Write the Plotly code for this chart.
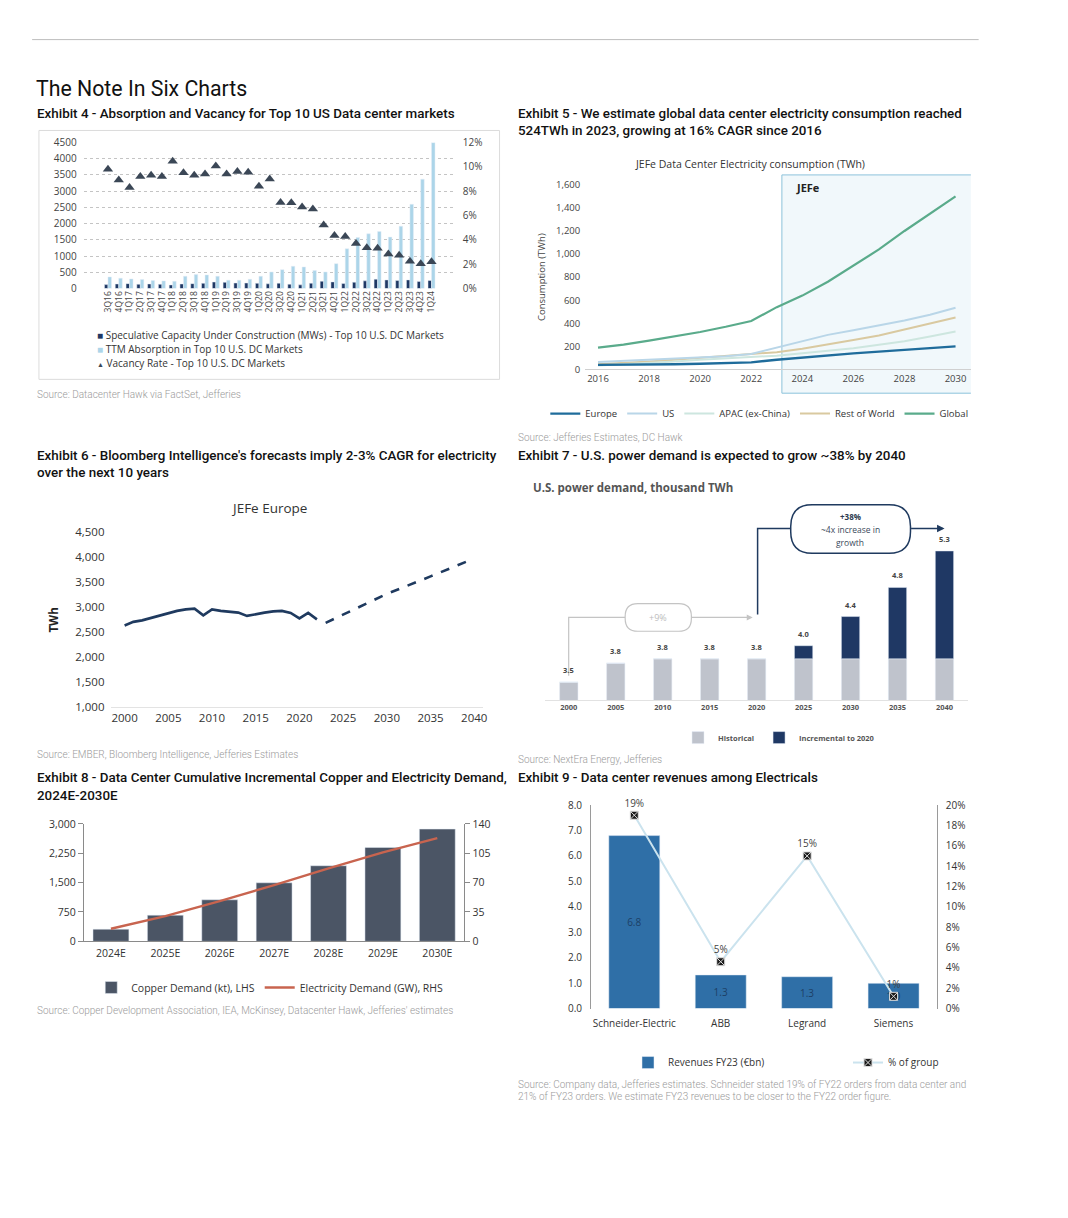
import plotly.graph_objects as go

W, H = 1068, 1218


def px(x):
    return x / W


def py(y):
    return 1 - y / H


# ---------------- DATA ----------------
# Exhibit 4
ex4_quarters = ["3Q16", "4Q16", "1Q17", "2Q17", "3Q17", "4Q17", "1Q18", "2Q18", "3Q18", "4Q18",
                "1Q19", "2Q19", "3Q19", "4Q19", "1Q20", "2Q20", "3Q20", "4Q20", "1Q21", "2Q21",
                "3Q21", "4Q21", "1Q22", "2Q22", "3Q22", "4Q22", "1Q23", "2Q23", "3Q23", "4Q23", "1Q24"]
ex4_speculative_mw = [120, 140, 150, 130, 140, 130, 110, 140, 150, 160, 200, 190, 170, 170, 160, 143,
                      163, 133, 112, 163, 224, 204, 153, 194, 235, 286, 265, 245, 265, 214, 245]
ex4_absorption_mw = [356, 316, 295, 275, 244, 234, 224, 377, 428, 418, 377, 255, 255, 285, 377, 510,
                     580, 684, 663, 551, 510, 765, 1224, 1571, 1684, 1755, 1582, 1918, 2592, 3367, 4490]
ex4_vacancy = [0.098, 0.089, 0.083, 0.092, 0.093, 0.092, 0.1045, 0.095, 0.093, 0.094, 0.1005, 0.094,
               0.096, 0.0955, 0.084, 0.0898, 0.0707, 0.0705, 0.067, 0.0653, 0.0522, 0.0435, 0.0427,
               0.037, 0.0335, 0.033, 0.0283, 0.0272, 0.0223, 0.0204, 0.022]
ex4_legend = ["Speculative Capacity Under Construction (MWs) - Top 10 U.S. DC Markets",
              "TTM Absorption in Top 10 U.S. DC Markets",
              "Vacancy Rate - Top 10 U.S. DC Markets"]

# Exhibit 5
ex5_years = [2016, 2017, 2018, 2019, 2020, 2021, 2022, 2023, 2024, 2025, 2026, 2027, 2028, 2029, 2030]
ex5_europe = [40, 40, 42, 45, 50, 57, 62, 85, 105, 125, 140, 155, 170, 185, 200]
ex5_us = [65, 75, 85, 95, 105, 115, 135, 190, 250, 300, 340, 380, 425, 475, 535]
ex5_apac = [35, 45, 55, 70, 85, 95, 110, 120, 140, 160, 185, 215, 245, 285, 330]
ex5_row = [45, 55, 70, 85, 100, 115, 135, 150, 180, 215, 255, 295, 345, 395, 450]
ex5_global = [190, 215, 250, 285, 325, 370, 420, 540, 640, 760, 900, 1040, 1200, 1350, 1500]
ex5_jefe_start = 2023.2

# Exhibit 6
ex6_hist_years = list(range(2000, 2023))
ex6_hist_twh = [2638, 2710, 2740, 2790, 2840, 2890, 2930, 2960, 2975, 2840, 2960, 2930, 2920, 2895,
                2830, 2870, 2895, 2920, 2930, 2890, 2780, 2890, 2760]
ex6_fc_years = [2023, 2025, 2030, 2035, 2040]
ex6_fc_twh = [2690, 2860, 3270, 3620, 3980]

# Exhibit 7
ex7_years = ["2000", "2005", "2010", "2015", "2020", "2025", "2030", "2035", "2040"]
ex7_historical = [3.5, 3.76, 3.82, 3.82, 3.82, 3.82, 3.82, 3.82, 3.82]
ex7_incremental = [0, 0, 0, 0, 0, 0.18, 0.58, 0.98, 1.48]

# Exhibit 8
ex8_years = ["2024E", "2025E", "2026E", "2027E", "2028E", "2029E", "2030E"]
ex8_copper_kt = [310, 669, 1061, 1495, 1930, 2398, 2866]
ex8_elec_gw = [15, 30, 48, 67, 87, 106, 123]

# Exhibit 9
ex9_companies = ["Schneider-Electric", "ABB", "Legrand", "Siemens"]
ex9_revenue_bn = [6.8, 1.32, 1.25, 0.99]
ex9_pct_group = [0.19, 0.046, 0.15, 0.012]

# ---------------- STYLE ----------------
TF = "Roboto"
CF = "Open Sans"
DARK = "#222222"
GREY_SRC = "#9a9a9a"
C4 = ["#1f3864", "#acd5e9", "#3b4756"]

fig = go.Figure()

# ---- Exhibit 4 ----
fig.add_trace(go.Bar(x=ex4_quarters, y=ex4_speculative_mw, name=ex4_legend[0], showlegend=False,
                     marker_color=C4[0], xaxis="x", yaxis="y", offsetgroup="s"))
fig.add_trace(go.Bar(x=ex4_quarters, y=ex4_absorption_mw, name=ex4_legend[1], showlegend=False,
                     marker_color=C4[1], xaxis="x", yaxis="y", offsetgroup="t"))
fig.add_trace(go.Scatter(x=ex4_quarters, y=ex4_vacancy, mode="markers", name=ex4_legend[2],
                         marker=dict(symbol="triangle-up", size=9, color=C4[2]), showlegend=False,
                         xaxis="x", yaxis="y2"))

# ---- Exhibit 5 ----
ex5_series = [
    ("Global", ex5_global, "#5aab8b", 2.2, 5),
    ("Rest of World", ex5_row, "#d9c9a0", 2.0, 4),
    ("APAC (ex-China)", ex5_apac, "#cde6df", 2.0, 3),
    ("US", ex5_us, "#b9d6e8", 2.0, 2),
    ("Europe", ex5_europe, "#1f6c9b", 2.4, 1),
]
for name, vals, col, wdt, rank in ex5_series:
    fig.add_trace(go.Scatter(x=ex5_years, y=vals, mode="lines", name=name,
                             line=dict(color=col, width=wdt), legendrank=rank,
                             xaxis="x2", yaxis="y3", legend="legend2"))

# ---- Exhibit 6 ----
fig.add_trace(go.Scatter(x=ex6_hist_years, y=ex6_hist_twh, mode="lines",
                         line=dict(color="#1f3a5f", width=2.6), showlegend=False,
                         xaxis="x3", yaxis="y4"))
fig.add_trace(go.Scatter(x=ex6_fc_years, y=ex6_fc_twh, mode="lines",
                         line=dict(color="#1f3a5f", width=2.6, dash="dash"), showlegend=False,
                         xaxis="x3", yaxis="y4"))

# ---- Exhibit 7 ----
fig.add_trace(go.Bar(x=ex7_years, y=ex7_historical, name="Historical", marker_color="#bfc3cc",
                     width=0.39, offsetgroup="h", xaxis="x4", yaxis="y5", legend="legend3"))
fig.add_trace(go.Bar(x=ex7_years, y=ex7_incremental, base=ex7_historical,
                     name="Incremental to 2020", marker_color="#1f3864",
                     width=0.39, offsetgroup="h", xaxis="x4", yaxis="y5", legend="legend3"))
ex7_totals = [h + i for h, i in zip(ex7_historical, ex7_incremental)]
for idx, tot in enumerate(ex7_totals):
    fig.add_annotation(x=idx, y=tot, xref="x4", yref="y5", text=f"<b>{tot:.1f}</b>",
                       showarrow=False, yshift=12,
                       font=dict(family=CF, size=7.5, color="#444"))

# ---- Exhibit 8 ----
fig.add_trace(go.Bar(x=ex8_years, y=ex8_copper_kt, name="Copper Demand (kt), LHS",
                     marker_color="#4b5565", width=0.66, xaxis="x5", yaxis="y6", legend="legend4"))
fig.add_trace(go.Scatter(x=ex8_years, y=ex8_elec_gw, mode="lines", name="Electricity Demand (GW), RHS",
                         line=dict(color="#c8644f", width=2.4), xaxis="x5", yaxis="y7", legend="legend4"))

# ---- Exhibit 9 ----
fig.add_trace(go.Bar(x=ex9_companies, y=ex9_revenue_bn, name="Revenues FY23 (€bn)",
                     marker_color="#2f6fa7", width=0.59, texttemplate="%{y:.1f}",
                     textposition="inside", insidetextanchor="middle",
                     textfont=dict(family=CF, size=10, color="#1d3f66"),
                     xaxis="x6", yaxis="y8", legend="legend5"))
fig.add_trace(go.Scatter(x=ex9_companies, y=ex9_pct_group, mode="lines+markers+text",
                         name="% of group", texttemplate="%{y:.0%}", textposition="top center",
                         textfont=dict(family=CF, size=10, color="#444"), cliponaxis=False,
                         line=dict(color="#cbe3ee", width=2),
                         marker=dict(symbol="square-x", size=8, color="#1a1a1a",
                                     line=dict(color="#dddddd", width=1)),
                         xaxis="x6", yaxis="y9", legend="legend5"))

# ---------------- AXES ----------------
tickf = dict(family=CF, size=10, color="#444")
noline = dict(showline=False, zeroline=False, showgrid=False, ticks="")

layout = dict(
    width=W, height=H, margin=dict(l=0, r=0, t=0, b=0),
    paper_bgcolor="white", plot_bgcolor="rgba(0,0,0,0)",
    barmode="group", bargap=0.35, bargroupgap=0.0,
    font=dict(family=CF, color="#333"),
    # Ex4
    xaxis=dict(domain=[px(86), px(468)], anchor="y", type="category", tickangle=-90,
               tickmode="array", tickvals=ex4_quarters, ticktext=ex4_quarters,
               tickfont=dict(family=CF, size=8.5, color="#444"), **noline),
    yaxis=dict(domain=[py(284), py(136)], anchor="x", range=[0, 4500], dtick=500,
               showgrid=True, gridcolor="#c4c4c4", griddash="dot", gridwidth=1,
               zeroline=False, showline=False, ticks="", tickfont=tickf, ticklabelstandoff=6),
    yaxis2=dict(overlaying="y", anchor="x", side="right", range=[0, 0.12], dtick=0.02,
                tickformat=".0%", tickfont=tickf, ticklabelstandoff=6, **noline),
    # Ex5
    xaxis2=dict(domain=[px(601), px(997)], anchor="y3", range=[2015.5, 2030.6], tick0=2016, dtick=2,
                showline=True, linecolor="#d0d0d0", zeroline=False, showgrid=False, ticks="",
                tickfont=dict(family=CF, size=9.5, color="#444")),
    yaxis3=dict(domain=[py(366), py(179)], anchor="x2", range=[0, 1600], dtick=200, tickformat=",",
                tickfont=dict(family=CF, size=9.5, color="#444"), ticklabelstandoff=4,
                title=dict(text="Consumption (TWh)", font=dict(family=CF, size=9.5, color="#444"),
                           standoff=8), **noline),
    # Ex6
    xaxis3=dict(domain=[px(114.5), px(496)], anchor="y4", range=[1998.5, 2041], tick0=2000, dtick=5,
                showline=True, linecolor="#e3e3e3", zeroline=False, showgrid=False, ticks="",
                tickfont=dict(family=CF, size=11.5, color="#333")),
    yaxis4=dict(domain=[py(708), py(531)], anchor="x3", range=[1000, 4500], dtick=500, tickformat=",",
                tickfont=dict(family=CF, size=11.5, color="#333"), ticklabelstandoff=6,
                title=dict(text="<b>TWh</b>", font=dict(family=CF, size=11.5, color="#222"),
                           standoff=14), **noline),
    # Ex7
    xaxis4=dict(domain=[px(560), px(994)], anchor="y5", type="category", range=[-0.5, 8.5],
                showline=True, linecolor="#e2e2e2", zeroline=False, showgrid=False, ticks="",
                tickfont=dict(family=CF, size=7.5, color="#555", weight="bold")),
    yaxis5=dict(domain=[py(701), py(527.6)], anchor="x4", range=[3.25, 5.6],
                showticklabels=False, **noline),
    # Ex8
    xaxis5=dict(domain=[px(86), px(477)], anchor="y6", type="category",
                showline=True, linecolor="#8a8a8a", zeroline=False, showgrid=False, ticks="",
                tickfont=dict(family=CF, size=10.5, color="#333"), ticklabelstandoff=2),
    yaxis6=dict(domain=[py(945), py(826)], anchor="x5", range=[0, 3000], tickvals=[0, 750, 1500, 2250, 3000],
                tickformat=",", showline=True, linecolor="#8a8a8a", ticks="outside", ticklen=5,
                tickcolor="#8a8a8a", zeroline=False, showgrid=False,
                tickfont=dict(family=CF, size=10.5, color="#333")),
    yaxis7=dict(overlaying="y6", anchor="x5", side="right", range=[0, 140], tickvals=[0, 35, 70, 105, 140],
                showline=True, linecolor="#8a8a8a", ticks="outside", ticklen=5, tickcolor="#8a8a8a",
                zeroline=False, showgrid=False, tickfont=dict(family=CF, size=10.5, color="#333")),
    # Ex9
    xaxis6=dict(domain=[px(607), px(962)], anchor="y8", type="category",
                showline=False, zeroline=False, showgrid=False, ticks="",
                tickfont=dict(family=CF, size=10, color="#333"), ticklabelstandoff=7),
    yaxis8=dict(domain=[py(1013), py(807)], anchor="x6", range=[0, 8], dtick=1, tickformat=".1f",
                showline=True, linecolor="#9a9a9a", ticks="", zeroline=False, showgrid=False,
                tickfont=dict(family=CF, size=10, color="#333"), ticklabelstandoff=6),
    yaxis9=dict(overlaying="y8", anchor="x6", side="right", range=[0, 0.2], dtick=0.02, tickformat=".0%",
                showline=True, linecolor="#9a9a9a", ticks="", zeroline=False, showgrid=False,
                tickfont=dict(family=CF, size=10, color="#333"), ticklabelstandoff=6),
    # Legends
    legend2=dict(x=px(560), y=py(396), xanchor="left", yanchor="top", orientation="h",
                 font=dict(family=CF, size=9.5, color="#333"), bgcolor="rgba(0,0,0,0)"),
    legend3=dict(x=px(800), y=py(724), xanchor="center", yanchor="top", orientation="h",
                 font=dict(family=CF, size=7.5, color="#555", weight="bold"), bgcolor="rgba(0,0,0,0)"),
    legend4=dict(x=px(277), y=py(977), xanchor="center", yanchor="top", orientation="h",
                 font=dict(family=CF, size=10.5, color="#333"), bgcolor="rgba(0,0,0,0)"),
    legend5=dict(x=px(645), y=py(1053), xanchor="left", yanchor="top", orientation="h",
                 entrywidth=175, entrywidthmode="pixels",
                 font=dict(family=CF, size=10, color="#333"), bgcolor="rgba(0,0,0,0)"),
)
fig.update_layout(**layout)

# ---------------- SHAPES ----------------
shapes = []
shapes.append(dict(type="line", xref="paper", yref="paper", x0=px(33), x1=px(1005), y0=py(32), y1=py(32),
                   line=dict(color="#bdbdbd", width=1)))
shapes.append(dict(type="rect", xref="paper", yref="paper", x0=px(40), x1=px(513), y0=py(376), y1=py(124),
                   line=dict(color="#dcdcdc", width=1), fillcolor="rgba(0,0,0,0)", layer="below"))
shapes.append(dict(type="rect", xref="x2", yref="paper", x0=ex5_jefe_start, x1=2030.7,
                   y0=py(390), y1=py(169), line=dict(color="#8cc3db", width=1),
                   fillcolor="rgba(215,234,244,0.35)", layer="below"))


def rounded(x0, y0, x1, y1, r):
    pts = [
        ("M", [(x0 + r, y0)]), ("L", [(x1 - r, y0)]), ("Q", [(x1, y0), (x1, y0 + r)]),
        ("L", [(x1, y1 - r)]), ("Q", [(x1, y1), (x1 - r, y1)]), ("L", [(x0 + r, y1)]),
        ("Q", [(x0, y1), (x0, y1 - r)]), ("L", [(x0, y0 + r)]), ("Q", [(x0, y0), (x0 + r, y0)]),
    ]
    s = ""
    for cmd, ps in pts:
        s += cmd + " " + " ".join(f"{px(a):.5f},{py(b):.5f}" for a, b in ps) + " "
    return s + "Z"


shapes.append(dict(type="path", xref="paper", yref="paper",
                   path=f"M {px(584)},{py(676)} L {px(584)},{py(617)} L {px(642)},{py(617)}",
                   line=dict(color="#c4c4c4", width=1.2)))
shapes.append(dict(type="path", xref="paper", yref="paper", path=rounded(642, 603, 710, 631, 13),
                   line=dict(color="#c4c4c4", width=1.2), fillcolor="white"))
shapes.append(dict(type="path", xref="paper", yref="paper",
                   path=f"M {px(778)},{py(614)} L {px(778)},{py(527)} L {px(812)},{py(527)}",
                   line=dict(color="#1f3a5f", width=1.5)))
shapes.append(dict(type="path", xref="paper", yref="paper", path=rounded(812, 503, 935, 552, 22),
                   line=dict(color="#1f3a5f", width=1.5), fillcolor="white"))
fig.update_layout(shapes=shapes)

fig.add_annotation(x=px(773), y=py(617), xref="paper", yref="paper", ax=-63, ay=0, text="",
                   showarrow=True, arrowhead=2, arrowsize=1, arrowwidth=1.2, arrowcolor="#c4c4c4", standoff=0)
fig.add_annotation(x=px(970), y=py(527), xref="paper", yref="paper", ax=-35, ay=0, text="",
                   showarrow=True, arrowhead=2, arrowsize=1, arrowwidth=1.5, arrowcolor="#1f3a5f", standoff=0)


# ---------------- TEXT ----------------
def txt(x, y, t, size, color=DARK, family=TF, weight="normal", anchor="left"):
    fig.add_annotation(x=px(x), y=py(y), xref="paper", yref="paper", text=t, showarrow=False,
                       xanchor=anchor, yanchor="middle",
                       font=dict(family=family, size=size, color=color, weight=weight))


ex4_syms = [f'<span style="color:{C4[0]}">■</span>', f'<span style="color:{C4[1]}">■</span>',
            f'<span style="color:{C4[2]};font-size:7px">▲</span>']
for i, (sym, lab) in enumerate(zip(ex4_syms, ex4_legend)):
    txt(98, 331 + 14 * i, f"{sym} {lab}", 10, "#333", family=CF)

txt(35, 81, "The Note In Six Charts", 21.3, "#111")
TW = 500
TS = 13.4
txt(36, 107, "Exhibit 4 - Absorption and Vacancy for Top 10 US Data center markets", TS, "#111", weight=TW)
txt(530, 107, "Exhibit 5 - We estimate global data center electricity consumption reached", TS, "#111", weight=TW)
txt(530, 124, "524TWh in 2023, growing at 16% CAGR since 2016", TS, "#111", weight=TW)
txt(36, 453, "Exhibit 6 - Bloomberg Intelligence's forecasts imply 2-3% CAGR for electricity", TS, "#111", weight=TW)
txt(36, 470, "over the next 10 years", TS, "#111", weight=TW)
txt(530, 453, "Exhibit 7 - U.S. power demand is expected to grow ~38% by 2040", TS, "#111", weight=TW)
txt(36, 779, "Exhibit 8 - Data Center Cumulative Incremental Copper and Electricity Demand,", TS, "#111", weight=TW)
txt(36, 797, "2024E-2030E", TS, "#111", weight=TW)
txt(530, 779, "Exhibit 9 - Data center revenues among Electricals", TS, "#111", weight=TW)

SW = 300
txt(36, 391, "Source: Datacenter Hawk via FactSet, Jefferies", 10, GREY_SRC, weight=SW)
txt(530, 435, "Source: Jefferies Estimates, DC Hawk", 10, GREY_SRC, weight=SW)
txt(36, 756, "Source: EMBER, Bloomberg Intelligence, Jefferies Estimates", 10, GREY_SRC, weight=SW)
txt(530, 761, "Source: NextEra Energy, Jefferies", 10, GREY_SRC, weight=SW)
txt(36, 1015, "Source: Copper Development Association, IEA, McKinsey, Datacenter Hawk, Jefferies' estimates",
    10, GREY_SRC, weight=SW)
txt(530, 1090, "Source: Company data, Jefferies estimates. Schneider stated 19% of FY22 orders from data center and",
    10, GREY_SRC, weight=SW)
txt(530, 1102, "21% of FY23 orders. We estimate FY23 revenues to be closer to the FY22 order figure.",
    10, GREY_SRC, weight=SW)

txt(770, 158, "JEFe Data Center Electricity consumption (TWh)", 10.5, "#333", family=CF, anchor="center")
txt(815, 182, "<b>JEFe</b>", 11, "#222", family=CF)
txt(276, 506, "JEFe Europe", 13.5, "#333", family=CF, anchor="center")
txt(545, 485, "<b>U.S. power demand, thousand TWh</b>", 11.5, "#555", family=CF)
txt(676, 617, "+9%", 9, "#bdbdbd", family=CF, anchor="center")
txt(873, 515, "<b>+38%</b>", 8, "#2b3a4e", family=CF, anchor="center")
txt(873, 528, "~4x increase in", 8.5, "#3a4a5c", family=CF, anchor="center")
txt(873, 541, "growth", 8.5, "#3a4a5c", family=CF, anchor="center")

# remove the default 8px page margin so the 1068x1218 figure fills the window exactly
fit_page = (
    "var gd=document.getElementById('{plot_id}');"
    "var de=document.documentElement, b=document.body;"
    "de.style.margin='0';de.style.padding='0';de.style.overflow='hidden';"
    "b.style.margin='0';b.style.padding='0';b.style.overflow='hidden';"
    "gd.style.position='fixed';gd.style.left='0px';gd.style.top='0px';"
)
fig.write_html("out.html", config={"displayModeBar": False}, post_script=fit_page)
